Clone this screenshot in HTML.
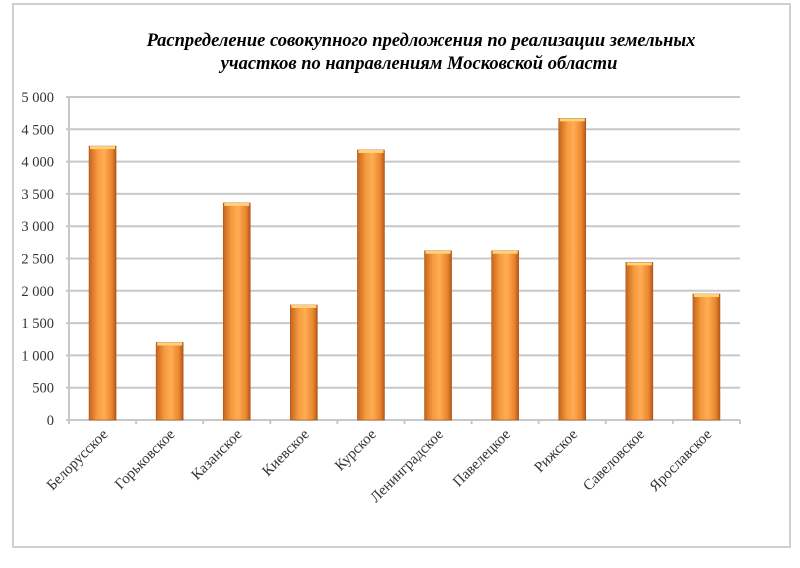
<!DOCTYPE html>
<html><head><meta charset="utf-8"><style>
body{margin:0;background:#fff;width:800px;height:563px;overflow:hidden;font-family:"Liberation Serif",serif}
</style></head><body>
<svg width="800" height="563" xmlns="http://www.w3.org/2000/svg">
<defs>
<linearGradient id="bg" x1="0" x2="1" y1="0" y2="0">
<stop offset="0" stop-color="#c7641c"/><stop offset="0.3" stop-color="#f59a3e"/><stop offset="0.55" stop-color="#ffad55"/><stop offset="0.85" stop-color="#e9852d"/><stop offset="1" stop-color="#b4571a"/>
</linearGradient>
</defs>
<rect x="13" y="4" width="777" height="543" fill="#fff" stroke="#cfcfcf" stroke-width="2"/>
<text x="421" y="46" text-anchor="middle" font-size="18.5" font-weight="bold" font-style="italic">Распределение совокупного предложения по реализации земельных</text>
<text x="419" y="69" text-anchor="middle" font-size="18.5" font-weight="bold" font-style="italic">участков по направлениям Московской области</text>
<g id="grid"></g><g id="bars"></g><g id="labels"></g>
</svg>
<script>
const categories=["Белорусское","Горьковское","Казанское","Киевское","Курское","Ленинградское","Павелецкое","Рижское","Савеловское","Ярославское"];
const values=[4240,1200,3360,1780,4180,2620,2620,4670,2440,1950];
const yTicks=[0,500,1000,1500,2000,2500,3000,3500,4000,4500,5000];
const yTickLabels=["0","500","1 000","1 500","2 000","2 500","3 000","3 500","4 000","4 500","5 000"];
const NS="http://www.w3.org/2000/svg";
const x0=69,x1=740,y0=420,yTop=97,yMax=5000;
const y=v=>y0-(v/yMax)*(y0-yTop);
const band=(x1-x0)/categories.length;
const xc=i=>x0+band*(i+0.5);
function mk(t,a,p){const e=document.createElementNS(NS,t);for(const k in a)e.setAttribute(k,a[k]);p.appendChild(e);return e;}
const g=document.getElementById('grid'),b=document.getElementById('bars'),l=document.getElementById('labels');
yTicks.forEach((v,i)=>{
 const ln=mk('line',{x1:x0-3,x2:x1,y1:y(v),y2:y(v),stroke:'#c8c8c8','stroke-width':2},g);
 
 
 const t=mk('text',{x:54,y:y(v)+5,'text-anchor':'end','font-size':14.5,fill:'#333'},g);
 t.textContent=yTickLabels[i];
 
 
});
const ax=mk('line',{x1:x0,x2:x0,y1:yTop,y2:y0,stroke:'#c8c8c8','stroke-width':2},g);


for(let i=0;i<=categories.length;i++){
 const tk=mk('line',{x1:x0+band*i,x2:x0+band*i,y1:y0,y2:y0+4,stroke:'#c8c8c8','stroke-width':2},g);
 
 
}
categories.forEach((c,i)=>{
 const w=27,cx=xc(i);
 const r=mk('rect',{x:cx-w/2,y:y(values[i]),width:w,height:y0-y(values[i]),fill:'url(#bg)',stroke:'#a9561c','stroke-width':0.6},b);
 
 
 const cap=mk('rect',{x:cx-w/2+1,y:y(values[i]),width:w-2,height:3,fill:'#ffd27a'},b);
 
 
 const t=mk('text',{x:cx+6,y:y0+15,'text-anchor':'end','font-size':15,fill:'#333',transform:`rotate(-45 ${cx+6} ${y0+15})`},l);
 t.textContent=c;
 
 
});
</script>
</body></html>
